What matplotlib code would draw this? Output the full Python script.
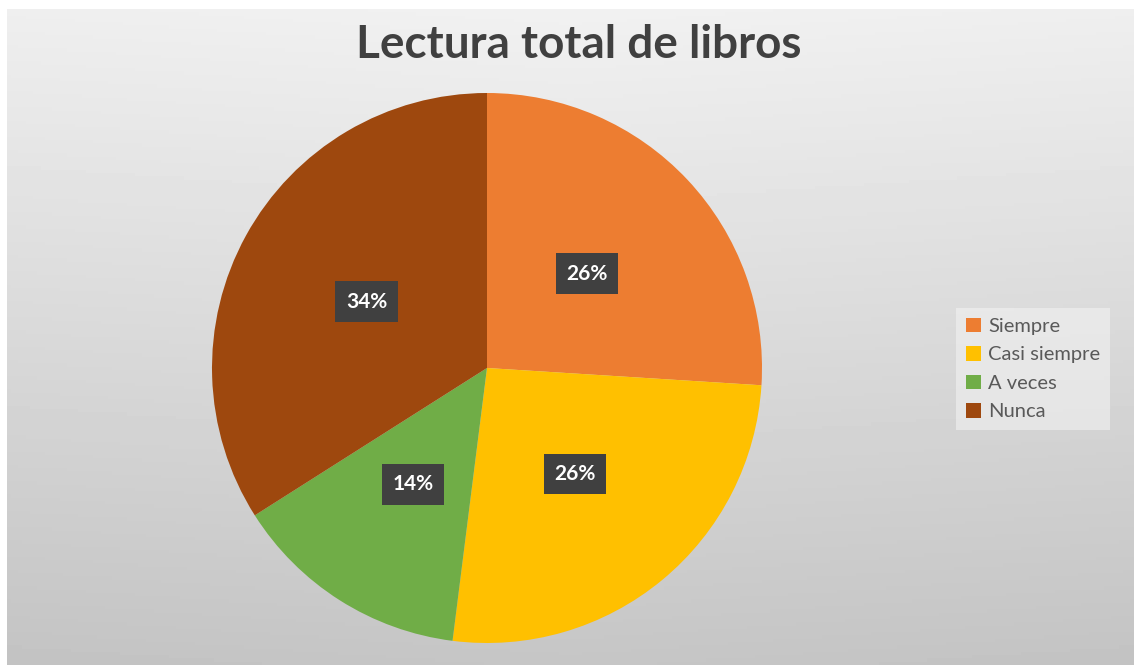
import numpy as np
import matplotlib.pyplot as plt

# datos del grafico
categorias = ["Siempre", "Casi siempre", "A veces", "Nunca"]
porcentajes = [26, 26, 14, 34]
colores = ["#ED7D31", "#FFC000", "#70AD47", "#9E480E"]

W, H = 1134, 665
fig = plt.figure(figsize=(W / 100, H / 100), dpi=100)
fig.patch.set_facecolor("white")

# fondo gris con degradado
bg = fig.add_axes([7 / W, 0, (W - 7) / W, (H - 9) / H])
yy = np.linspace(0, 1, 200)[:, None]
xx = np.linspace(0, 1, 300)[None, :]
grad = 0.945 - 0.17 * yy - 0.02 * np.abs(xx - 0.5)
bg.imshow(grad, cmap="gray", vmin=0, vmax=1, aspect="auto", extent=[0, 1, 0, 1], origin="upper")
bg.set_axis_off()

# pastel
cx, cy, r = 487, 368, 275
ax = fig.add_axes([(cx - r) / W, (H - cy - r) / H, 2 * r / W, 2 * r / H])
wedges, texts = ax.pie(porcentajes, colors=colores, startangle=90, counterclock=False,
                       radius=1, labels=[f"{p}%" for p in porcentajes], labeldistance=0.5,
                       wedgeprops=dict(linewidth=0))
for t in texts:
    t.set_color("white")
    t.set_fontsize(15)
    t.set_fontweight("bold")
    t.set_family(["Lato", "DejaVu Sans"])
    t.set_ha("center")
    t.set_va("center")
    t.set_bbox(dict(facecolor="#404040", edgecolor="none", boxstyle="square,pad=0.5"))
ax.set_xlim(-1, 1)
ax.set_ylim(-1, 1)
ax.set_axis_off()

fig.text(579 / W, 1 - 45 / H, "Lectura total de libros", ha="center", va="center",
         fontsize=33, fontweight="bold", color="#404040", family=["Lato", "DejaVu Sans"])

leg = fig.legend(wedges, categorias, loc="center left", bbox_to_anchor=(956 / W, 1 - 369 / H),
                 frameon=True, fancybox=False, handlelength=0.75, handleheight=0.75,
                 handletextpad=0.35, labelspacing=0.55, borderpad=0.5, borderaxespad=0,
                 prop={"family": ["Lato", "DejaVu Sans"], "size": 14.5})
leg.get_frame().set_facecolor("#f2f2f2")
leg.get_frame().set_alpha(0.6)
leg.get_frame().set_edgecolor("none")
for t in leg.get_texts():
    t.set_color("#595959")

fig.savefig("out.png", dpi=100)
